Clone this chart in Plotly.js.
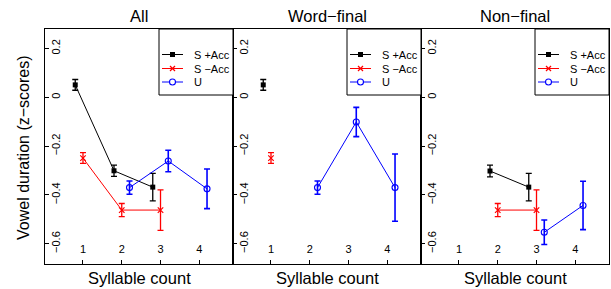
<!DOCTYPE html>
<html>
<head>
<meta charset="utf-8">
<script src="https://cdn.plot.ly/plotly-3.0.1.min.js"></script>
<style>html,body{margin:0;padding:0;background:#fff;}#chart{width:611px;height:289px;}</style>
</head>
<body>
<div id="chart"></div>
<script>
// ---- data ----
const panelTitles = ["All", "Word\u2212final", "Non\u2212final"];
const seriesNames = ["S +Acc", "S \u2212Acc", "U"];

// Panel "All"
const all_SAcc_count = [1, 2, 3];
const all_SAcc_mean  = [0.051, -0.301, -0.368];
const all_SAcc_se    = [0.022, 0.023, 0.056];
const all_SnoAcc_count = [1, 2, 3];
const all_SnoAcc_mean  = [-0.249, -0.462, -0.462];
const all_SnoAcc_se    = [0.022, 0.027, 0.083];
const all_U_count = [2, 3, 4];
const all_U_mean  = [-0.370, -0.261, -0.375];
const all_U_se    = [0.027, 0.044, 0.081];

// Panel "Word-final"
const wf_SAcc_count = [1];
const wf_SAcc_mean  = [0.051];
const wf_SAcc_se    = [0.022];
const wf_SnoAcc_count = [1];
const wf_SnoAcc_mean  = [-0.249];
const wf_SnoAcc_se    = [0.022];
const wf_U_count = [2, 3, 4];
const wf_U_mean  = [-0.370, -0.101, -0.370];
const wf_U_se    = [0.027, 0.060, 0.138];

// Panel "Non-final"
const nf_SAcc_count = [2, 3];
const nf_SAcc_mean  = [-0.302, -0.368];
const nf_SAcc_se    = [0.024, 0.056];
const nf_SnoAcc_count = [2, 3];
const nf_SnoAcc_mean  = [-0.462, -0.462];
const nf_SnoAcc_se    = [0.027, 0.083];
const nf_U_count = [3, 4];
const nf_U_mean  = [-0.553, -0.443];
const nf_U_se    = [0.050, 0.099];

const xTicks = [1, 2, 3, 4];
const yTicks = [-0.6, -0.4, -0.2, 0, 0.2];
const xTitle = "Syllable count";
const yTitle = "Vowel duration (z\u2212scores)";

// ---- styling ----
const FONT = "Liberation Sans, Arial, Helvetica, sans-serif";
const styles = [
  {color: "#000000", offset: -0.2, errW: 1.3, marker: {symbol: "square", size: 5, color: "#000000"}},
  {color: "#ff0000", offset: 0.0,  errW: 1.3, marker: {symbol: "x-thin-open", size: 5.5, color: "#ff0000", line: {width: 1.2, color: "#ff0000"}}},
  {color: "#0000ff", offset: 0.2,  errW: 1.6, marker: {symbol: "circle-open", size: 6, color: "#0000ff", line: {width: 1.1, color: "#0000ff"}}}
];

const panels = [
  [[all_SAcc_count, all_SAcc_mean, all_SAcc_se], [all_SnoAcc_count, all_SnoAcc_mean, all_SnoAcc_se], [all_U_count, all_U_mean, all_U_se]],
  [[wf_SAcc_count, wf_SAcc_mean, wf_SAcc_se], [wf_SnoAcc_count, wf_SnoAcc_mean, wf_SnoAcc_se], [wf_U_count, wf_U_mean, wf_U_se]],
  [[nf_SAcc_count, nf_SAcc_mean, nf_SAcc_se], [nf_SnoAcc_count, nf_SnoAcc_mean, nf_SnoAcc_se], [nf_U_count, nf_U_mean, nf_U_se]]
];

const traces = [];
panels.forEach((series, p) => {
  const sfx = p === 0 ? "" : String(p + 1);
  series.forEach((s, i) => {
    const st = styles[i];
    traces.push({
      type: "scatter",
      mode: "lines+markers",
      name: seriesNames[i],
      x: s[0].map(v => v + st.offset),
      y: s[1],
      xaxis: "x" + sfx,
      yaxis: "y" + sfx,
      showlegend: false,
      line: {color: st.color, width: 1},
      marker: st.marker,
      error_y: {type: "data", array: s[2], visible: true, color: st.color, thickness: st.errW, width: 3},
      hoverinfo: "x+y"
    });
  });
});

// ---- layout geometry (pixels) ----
const W = 611, H = 289, ML = 45, MR = 2, MT = 29, MB = 25;
const PW = W - ML - MR, PH = H - MT - MB;
const panelW = PW / 3;
const px = x => x / PW;          // pixel offset from plot-left -> paper
const py = y => (PH - (y - MT)) / PH; // absolute pixel y -> paper

const xRange = [0.02, 4.87];
const yRange = [-0.683, 0.280];
const layout = {
  width: W, height: H,
  margin: {l: ML, r: MR, t: MT, b: MB},
  paper_bgcolor: "#fff", plot_bgcolor: "#fff",
  font: {family: FONT, size: 11, color: "#000"},
  showlegend: false,
  annotations: [],
  shapes: [],
  hovermode: false
};
const doms = [[0, 1/3], [1/3, 2/3], [2/3, 1]];
doms.forEach((d, p) => {
  const sfx = p === 0 ? "" : String(p + 1);
  layout["xaxis" + sfx] = {
    domain: d, range: xRange, anchor: "y" + sfx,
    tickvals: xTicks, ticks: "inside", ticklen: 4, tickcolor: "#000",
    ticklabelposition: "outside", ticklabelstandoff: -25,
    showline: true, mirror: true, linecolor: "#000", linewidth: 1,
    showgrid: false, zeroline: false, fixedrange: true,
    tickfont: {size: 11, color: "#000", family: FONT}
  };
  layout["yaxis" + sfx] = {
    domain: [0, 1], range: yRange, anchor: "x" + sfx,
    tickvals: yTicks, ticktext: yTicks.map(v => (v < 0 ? "\u2212" : "") + (v === 0 ? "0" : Math.abs(v).toFixed(1))),
    ticks: "inside", ticklen: 4, tickcolor: "#000",
    ticklabelposition: "inside", tickangle: -90, ticklabelstandoff: -3,
    showline: true, mirror: true, linecolor: "#000", linewidth: 1,
    showgrid: false, zeroline: false, fixedrange: true,
    tickfont: {size: 11, color: "#000", family: FONT}
  };
  // panel title
  layout.annotations.push({
    text: panelTitles[p], xref: "paper", yref: "paper",
    x: (d[0] + d[1]) / 2, y: py(16), xanchor: "center", yanchor: "middle",
    showarrow: false, font: {size: 16.5, family: FONT, color: "#000"}
  });
  // x-axis title
  layout.annotations.push({
    text: xTitle, xref: "paper", yref: "paper",
    x: (d[0] + d[1]) / 2, y: py(277.5), xanchor: "center", yanchor: "middle",
    showarrow: false, font: {size: 16.5, family: FONT, color: "#000"}
  });
  // legend (box, symbols, labels) at the panel's top-right corner
  const left = p * panelW;
  const boxL = left + 114, boxR = left + panelW;
  layout.shapes.push({type: "rect", xref: "paper", yref: "paper",
    x0: px(boxL), x1: px(boxR), y0: py(29), y1: py(95),
    line: {color: "#000", width: 1}, fillcolor: "#fff", layer: "above"});
  const entryY = [54.5, 68.5, 82];
  const lineX0 = left + 117, lineX1 = left + 138, mX = left + 127.5, textX = left + 147;
  styles.forEach((st, i) => {
    const yy = entryY[i];
    layout.shapes.push({type: "line", xref: "paper", yref: "paper",
      x0: px(lineX0), x1: px(lineX1), y0: py(yy), y1: py(yy),
      line: {color: st.color, width: 1}});
    if (i === 0) {
      layout.shapes.push({type: "rect", xref: "paper", yref: "paper",
        x0: px(mX - 2.5), x1: px(mX + 2.5), y0: py(yy - 2.5), y1: py(yy + 2.5),
        line: {color: st.color, width: 0}, fillcolor: st.color});
    } else if (i === 1) {
      [[-2.5, -2.5, 2.5, 2.5], [-2.5, 2.5, 2.5, -2.5]].forEach(q => {
        layout.shapes.push({type: "line", xref: "paper", yref: "paper",
          x0: px(mX + q[0]), y0: py(yy + q[1]), x1: px(mX + q[2]), y1: py(yy + q[3]),
          line: {color: st.color, width: 1.2}});
      });
    } else {
      layout.shapes.push({type: "circle", xref: "paper", yref: "paper",
        x0: px(mX - 3), x1: px(mX + 3), y0: py(yy - 3), y1: py(yy + 3),
        line: {color: st.color, width: 1.1}, fillcolor: "#fff"});
    }
    layout.annotations.push({
      text: seriesNames[i], xref: "paper", yref: "paper",
      x: px(textX), y: py(yy), xanchor: "left", yanchor: "middle",
      showarrow: false, font: {size: 11, family: FONT, color: "#000"}
    });
  });
});
// y-axis title
layout.annotations.push({
  text: yTitle, xref: "paper", yref: "paper", textangle: -90,
  x: 0, xshift: -22, y: py(148), xanchor: "center", yanchor: "middle",
  showarrow: false, font: {size: 16, family: FONT, color: "#000"}
});

Plotly.newPlot("chart", traces, layout, {staticPlot: true, displayModeBar: false});
</script>
</body>
</html>
